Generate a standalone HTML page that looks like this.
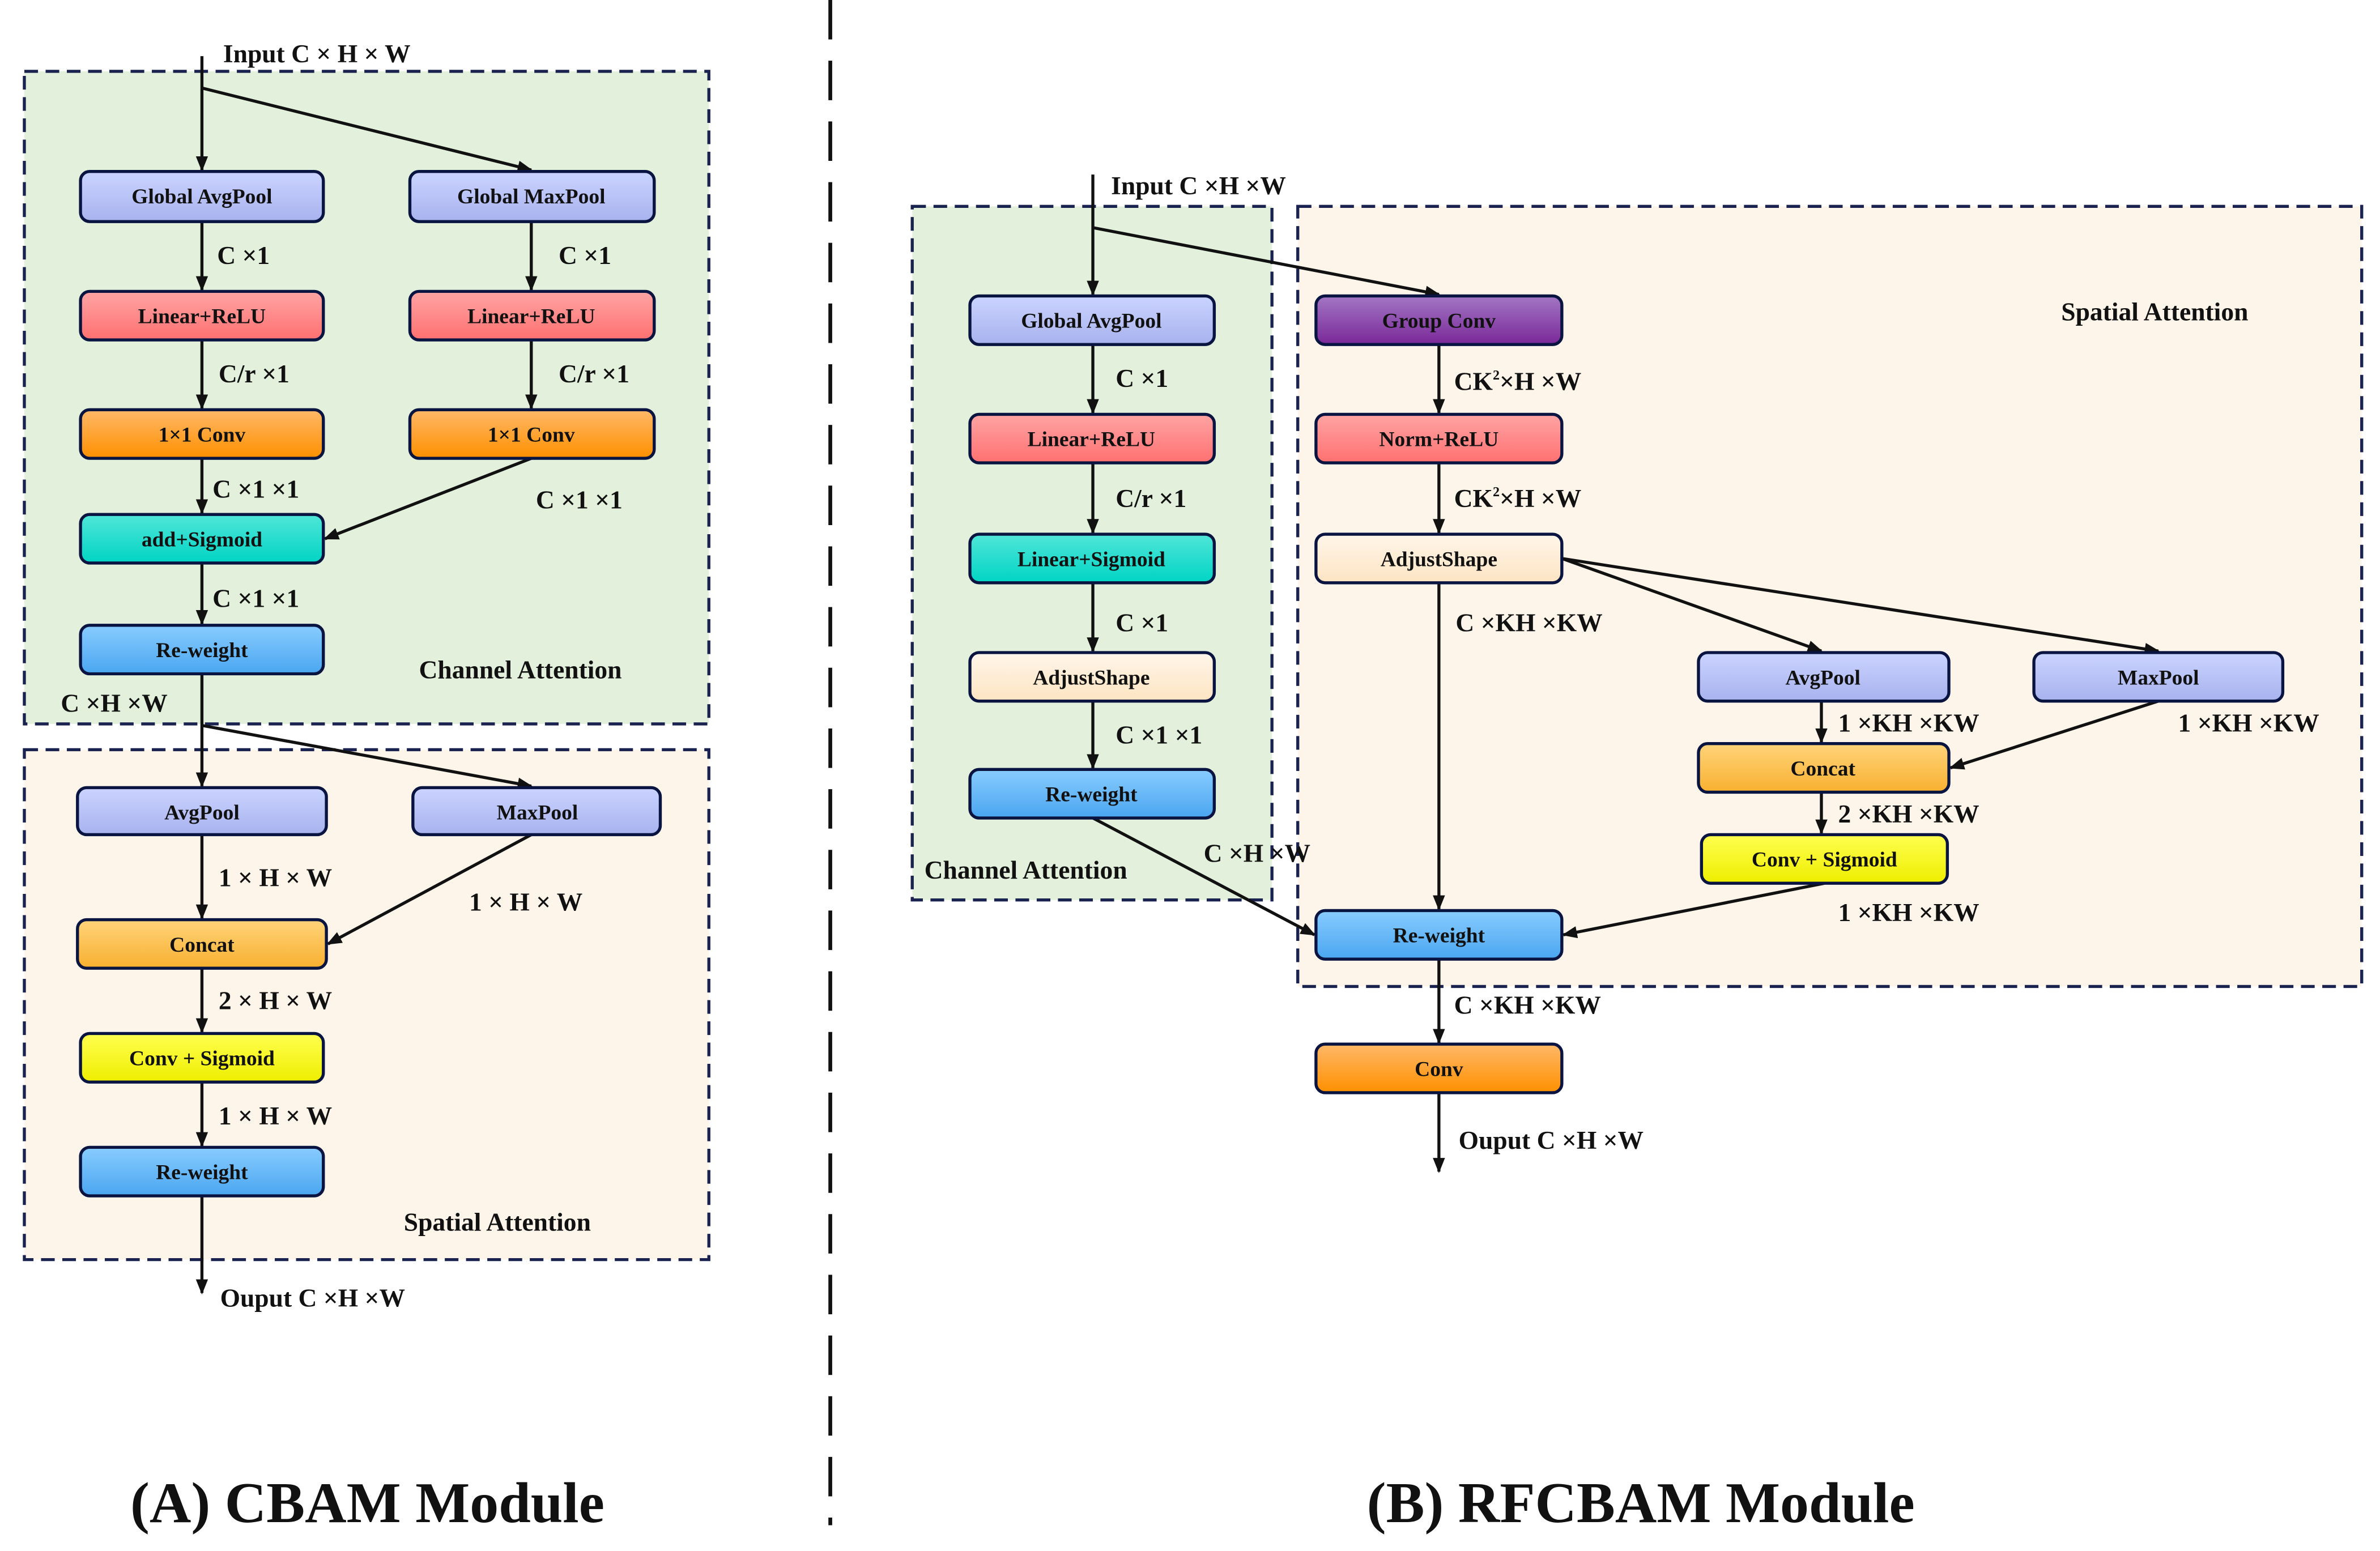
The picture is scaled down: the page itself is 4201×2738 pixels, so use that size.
<!DOCTYPE html>
<html><head><meta charset="utf-8"><style>
html,body{margin:0;padding:0;background:#fff}
svg{display:block}
text{font-family:"Liberation Serif",serif;font-weight:bold;fill:#111}
.b{font-size:14px;text-anchor:middle}
.l{font-size:17px}
</style></head><body>
<svg width="4201" height="2738" viewBox="0 0 1568 1022" xmlns="http://www.w3.org/2000/svg">
<defs>
<linearGradient id="gb" x1="0" y1="0" x2="0" y2="1"><stop offset="0" stop-color="#cbd4ff"/><stop offset="1" stop-color="#a8b2ee"/></linearGradient>
<linearGradient id="gr" x1="0" y1="0" x2="0" y2="1"><stop offset="0" stop-color="#ffa4a4"/><stop offset="1" stop-color="#ff7070"/></linearGradient>
<linearGradient id="go" x1="0" y1="0" x2="0" y2="1"><stop offset="0" stop-color="#ffb868"/><stop offset="1" stop-color="#ff9000"/></linearGradient>
<linearGradient id="gt" x1="0" y1="0" x2="0" y2="1"><stop offset="0" stop-color="#50e6d8"/><stop offset="1" stop-color="#00d4c4"/></linearGradient>
<linearGradient id="gy" x1="0" y1="0" x2="0" y2="1"><stop offset="0" stop-color="#ffff50"/><stop offset="1" stop-color="#eeee00"/></linearGradient>
<linearGradient id="gc" x1="0" y1="0" x2="0" y2="1"><stop offset="0" stop-color="#fff6ea"/><stop offset="1" stop-color="#fde4c2"/></linearGradient>
<linearGradient id="gw" x1="0" y1="0" x2="0" y2="1"><stop offset="0" stop-color="#88ccff"/><stop offset="1" stop-color="#4aa6f0"/></linearGradient>
<linearGradient id="gp" x1="0" y1="0" x2="0" y2="1"><stop offset="0" stop-color="#a276c4"/><stop offset="1" stop-color="#7a2898"/></linearGradient>
<linearGradient id="gk" x1="0" y1="0" x2="0" y2="1"><stop offset="0" stop-color="#ffd47a"/><stop offset="1" stop-color="#f8b030"/></linearGradient>
<marker id="a" markerWidth="10" markerHeight="10" refX="9" refY="5" orient="auto" markerUnits="userSpaceOnUse"><path d="M0,1 L10,5 L0,9 Z" fill="#111"/></marker>
</defs>
<g stroke="#1a2350" stroke-width="2" stroke-dasharray="9,5">
<rect x="16" y="47" width="451" height="430" fill="#e2f0dc"/>
<rect x="16" y="494" width="451" height="336" fill="#fdf4ea"/>
<rect x="601" y="136" width="237" height="457" fill="#e2f0dc"/>
<rect x="855" y="136" width="701" height="514" fill="#fdf4ea"/>
</g>
<line x1="547" y1="0" x2="547" y2="1005" stroke="#111" stroke-width="2.5" stroke-dasharray="26,14"/>
<g stroke="#111" stroke-width="2" fill="none" marker-end="url(#a)">
<line x1="133" y1="37" x2="133" y2="112"/>
<line x1="133" y1="58" x2="350" y2="112"/>
<line x1="133" y1="146" x2="133" y2="191"/>
<line x1="350" y1="146" x2="350" y2="191"/>
<line x1="133" y1="224" x2="133" y2="269"/>
<line x1="350" y1="224" x2="350" y2="269"/>
<line x1="133" y1="302" x2="133" y2="338"/>
<line x1="350" y1="302" x2="214" y2="355"/>
<line x1="133" y1="371" x2="133" y2="411"/>
<line x1="133" y1="444" x2="133" y2="518"/>
<line x1="133" y1="478" x2="350" y2="518"/>
<line x1="133" y1="550" x2="133" y2="605"/>
<line x1="350" y1="550" x2="216" y2="622"/>
<line x1="133" y1="638" x2="133" y2="680"/>
<line x1="133" y1="713" x2="133" y2="755"/>
<line x1="133" y1="788" x2="133" y2="852"/>
<line x1="720" y1="115" x2="720" y2="194"/>
<line x1="720" y1="150" x2="948" y2="194"/>
<line x1="720" y1="227" x2="720" y2="272"/>
<line x1="720" y1="305" x2="720" y2="351"/>
<line x1="720" y1="384" x2="720" y2="429"/>
<line x1="720" y1="462" x2="720" y2="506"/>
<line x1="720" y1="539" x2="866" y2="616"/>
<line x1="948" y1="227" x2="948" y2="272"/>
<line x1="948" y1="305" x2="948" y2="351"/>
<line x1="948" y1="384" x2="948" y2="599"/>
<line x1="1029" y1="368" x2="1200" y2="429"/>
<line x1="1029" y1="368" x2="1422" y2="429"/>
<line x1="1200" y1="462" x2="1200" y2="489"/>
<line x1="1422" y1="462" x2="1285" y2="506"/>
<line x1="1200" y1="522" x2="1200" y2="549"/>
<line x1="1202" y1="582" x2="1030" y2="616"/>
<line x1="948" y1="632" x2="948" y2="687"/>
<line x1="948" y1="720" x2="948" y2="772"/>
</g>
<g stroke="#0a1440" stroke-width="2">
<rect x="53" y="113" width="160" height="33" rx="6" fill="url(#gb)"/>
<rect x="270" y="113" width="161" height="33" rx="6" fill="url(#gb)"/>
<rect x="53" y="192" width="160" height="32" rx="6" fill="url(#gr)"/>
<rect x="270" y="192" width="161" height="32" rx="6" fill="url(#gr)"/>
<rect x="53" y="270" width="160" height="32" rx="6" fill="url(#go)"/>
<rect x="270" y="270" width="161" height="32" rx="6" fill="url(#go)"/>
<rect x="53" y="339" width="160" height="32" rx="6" fill="url(#gt)"/>
<rect x="53" y="412" width="160" height="32" rx="6" fill="url(#gw)"/>
<rect x="51" y="519" width="164" height="31" rx="6" fill="url(#gb)"/>
<rect x="272" y="519" width="163" height="31" rx="6" fill="url(#gb)"/>
<rect x="51" y="606" width="164" height="32" rx="6" fill="url(#gk)"/>
<rect x="53" y="681" width="160" height="32" rx="6" fill="url(#gy)"/>
<rect x="53" y="756" width="160" height="32" rx="6" fill="url(#gw)"/>
<rect x="639" y="195" width="161" height="32" rx="6" fill="url(#gb)"/>
<rect x="639" y="273" width="161" height="32" rx="6" fill="url(#gr)"/>
<rect x="639" y="352" width="161" height="32" rx="6" fill="url(#gt)"/>
<rect x="639" y="430" width="161" height="32" rx="6" fill="url(#gc)"/>
<rect x="639" y="507" width="161" height="32" rx="6" fill="url(#gw)"/>
<rect x="867" y="195" width="162" height="32" rx="6" fill="url(#gp)"/>
<rect x="867" y="273" width="162" height="32" rx="6" fill="url(#gr)"/>
<rect x="867" y="352" width="162" height="32" rx="6" fill="url(#gc)"/>
<rect x="1119" y="430" width="165" height="32" rx="6" fill="url(#gb)"/>
<rect x="1340" y="430" width="164" height="32" rx="6" fill="url(#gb)"/>
<rect x="1119" y="490" width="165" height="32" rx="6" fill="url(#gk)"/>
<rect x="1121" y="550" width="162" height="32" rx="6" fill="url(#gy)"/>
<rect x="867" y="600" width="162" height="32" rx="6" fill="url(#gw)"/>
<rect x="867" y="688" width="162" height="32" rx="6" fill="url(#go)"/>
</g>
<g class="b">
<text class="b" x="133" y="134">Global AvgPool</text>
<text class="b" x="350" y="134">Global MaxPool</text>
<text class="b" x="133" y="213">Linear+ReLU</text>
<text class="b" x="350" y="213">Linear+ReLU</text>
<text class="b" x="133" y="291">1×1  Conv</text>
<text class="b" x="350" y="291">1×1  Conv</text>
<text class="b" x="133" y="360">add+Sigmoid</text>
<text class="b" x="133" y="433">Re-weight</text>
<text class="b" x="133" y="540">AvgPool</text>
<text class="b" x="354" y="540">MaxPool</text>
<text class="b" x="133" y="627">Concat</text>
<text class="b" x="133" y="702">Conv + Sigmoid</text>
<text class="b" x="133" y="777">Re-weight</text>
<text class="b" x="719" y="216">Global AvgPool</text>
<text class="b" x="719" y="294">Linear+ReLU</text>
<text class="b" x="719" y="373">Linear+Sigmoid</text>
<text class="b" x="719" y="451">AdjustShape</text>
<text class="b" x="719" y="528">Re-weight</text>
<text class="b" x="948" y="216">Group  Conv</text>
<text class="b" x="948" y="294">Norm+ReLU</text>
<text class="b" x="948" y="373">AdjustShape</text>
<text class="b" x="1201" y="451">AvgPool</text>
<text class="b" x="1422" y="451">MaxPool</text>
<text class="b" x="1201" y="511">Concat</text>
<text class="b" x="1202" y="571">Conv + Sigmoid</text>
<text class="b" x="948" y="621">Re-weight</text>
<text class="b" x="948" y="709">Conv</text>
</g>
<g>
<text class="l" x="147" y="41">Input C × H × W</text>
<text class="l" x="143" y="174">C ×1</text>
<text class="l" x="368" y="174">C ×1</text>
<text class="l" x="144" y="252">C/r ×1</text>
<text class="l" x="368" y="252">C/r ×1</text>
<text class="l" x="140" y="328">C ×1 ×1</text>
<text class="l" x="353" y="335">C ×1 ×1</text>
<text class="l" x="140" y="400">C ×1 ×1</text>
<text class="l" x="276" y="447">Channel Attention</text>
<text class="l" x="40" y="469">C ×H ×W</text>
<text class="l" x="144" y="584">1 × H × W</text>
<text class="l" x="309" y="600">1 × H × W</text>
<text class="l" x="144" y="665">2 × H × W</text>
<text class="l" x="144" y="741">1 × H × W</text>
<text class="l" x="266" y="811">Spatial Attention</text>
<text class="l" x="145" y="861">Ouput  C ×H ×W</text>
<text class="l" x="732" y="128">Input C ×H ×W</text>
<text class="l" x="735" y="255">C ×1</text>
<text class="l" x="735" y="334">C/r ×1</text>
<text class="l" x="735" y="416">C ×1</text>
<text class="l" x="735" y="490">C ×1 ×1</text>
<text class="l" x="609" y="579">Channel Attention</text>
<text class="l" x="793" y="568">C ×H ×W</text>
<text class="l" x="1358" y="211">Spatial Attention</text>
<text class="l" x="958" y="257">CK<tspan font-size="9" dy="-7">2</tspan><tspan dy="7">×H ×W</tspan></text>
<text class="l" x="958" y="334">CK<tspan font-size="9" dy="-7">2</tspan><tspan dy="7">×H ×W</tspan></text>
<text class="l" x="959" y="416">C ×KH ×KW</text>
<text class="l" x="1211" y="482">1 ×KH ×KW</text>
<text class="l" x="1435" y="482">1 ×KH ×KW</text>
<text class="l" x="1211" y="542">2 ×KH ×KW</text>
<text class="l" x="1211" y="607">1 ×KH ×KW</text>
<text class="l" x="958" y="668">C ×KH ×KW</text>
<text class="l" x="961" y="757">Ouput  C ×H ×W</text>
<text x="242" y="1003" font-size="38" text-anchor="middle">(A) CBAM Module</text>
<text x="1081" y="1003" font-size="38" text-anchor="middle">(B) RFCBAM Module</text>
</g>
</svg>
</body></html>
